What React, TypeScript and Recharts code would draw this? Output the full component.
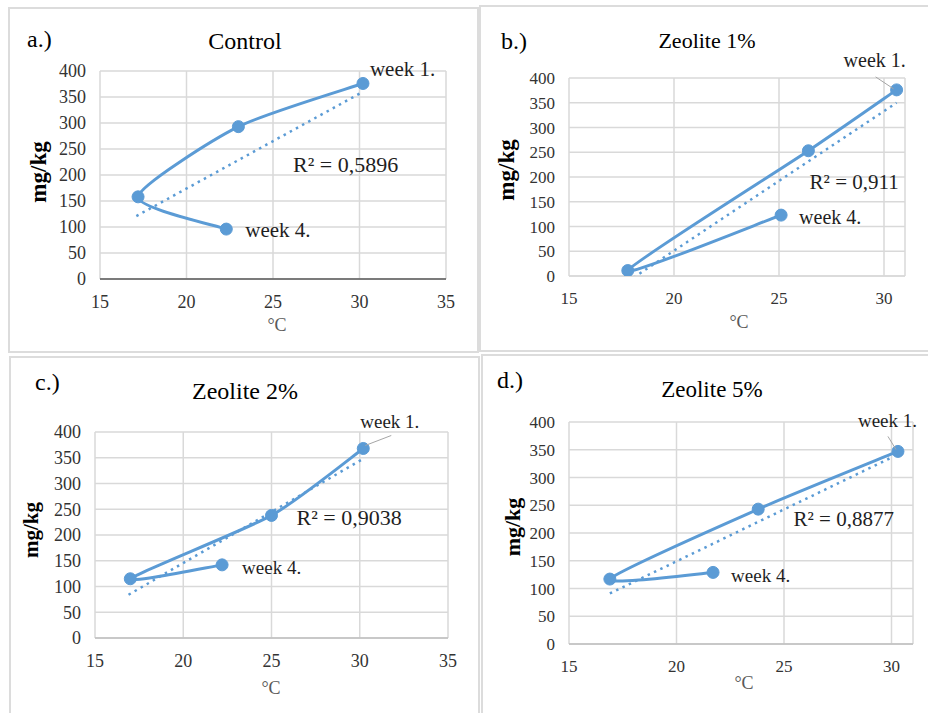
import { ComposedChart, Line, XAxis, YAxis, CartesianGrid } from 'recharts'

const Y_TICKS = [0, 50, 100, 150, 200, 250, 300, 350, 400]
const X_TICKS_WIDE = [15, 20, 25, 30, 35]
const X_TICKS_NARROW = [15, 20, 25, 30]
const WEEK_TAGS = ['week 1.', '', '', 'week 4.']

// a.) Control  (order: week 1 -> week 4)
const TEMP_A = [30.2, 23.0, 17.2, 22.3]
const CONC_A = [376, 293, 158, 96]
const TREND_TEMP_A = [17.1, 30.2]
const TREND_CONC_A = [121, 360]

// b.) Zeolite 1%
const TEMP_B = [30.6, 26.4, 17.8, 25.1]
const CONC_B = [376, 253, 11, 123]
const TREND_TEMP_B = [17.8, 30.6]
const TREND_CONC_B = [-11, 350]

// c.) Zeolite 2%
const TEMP_C = [30.2, 25.0, 17.0, 22.2]
const CONC_C = [368, 238, 115, 142]
const TREND_TEMP_C = [16.9, 30.1]
const TREND_CONC_C = [84, 346]

// d.) Zeolite 5%
const TEMP_D = [30.3, 23.8, 16.9, 21.7]
const CONC_D = [347, 243, 117, 129]
const TREND_TEMP_D = [16.9, 30.0]
const TREND_CONC_D = [91, 336]

const BLUE = '#5b9bd5'
const FONT = '"Liberation Serif", "Times New Roman", serif'

// Excel style smoothed line (low tension Catmull-Rom through the points, pixel space)
function smoothCurve(context: any) {
    let pts: number[][] = []
    return {
        areaStart() { },
        areaEnd() { },
        lineStart() { pts = [] },
        point(x: number, y: number) { pts.push([+x, +y]) },
        lineEnd() {
            const n = pts.length
            if (!n) return
            context.moveTo(pts[0][0], pts[0][1])
            const k = 0.11
            for (let i = 0; i < n - 1; i++) {
                const p0 = pts[Math.max(i - 1, 0)]
                const p1 = pts[i]
                const p2 = pts[i + 1]
                const p3 = pts[Math.min(i + 2, n - 1)]
                context.bezierCurveTo(
                    p1[0] + (p2[0] - p0[0]) * k, p1[1] + (p2[1] - p0[1]) * k,
                    p2[0] - (p3[0] - p1[0]) * k, p2[1] - (p3[1] - p1[1]) * k,
                    p2[0], p2[1],
                )
            }
        },
    }
}

const PANELS = [
    {
        letter: 'a.)', title: 'Control', r2: 'R² = 0,5896',
        temp: TEMP_A, conc: CONC_A, trendTemp: TREND_TEMP_A, trendConc: TREND_CONC_A,
        xMax: 35, xTicks: X_TICKS_WIDE, axisStroke: '#595959',
        box: { left: 8, top: 7, right: 479, bottom: 353 },
        plot: { left: 100, top: 71, right: 446, bottom: 279 },
        tickSize: 18, titleSize: 24, ySize: 23, tagSize: 21, r2Size: 22,
        letterPos: [27, 39], titlePos: [245, 41], yPos: [38, 172], xPos: [277, 325],
        w1: [7, -15], w4: [19, 1], r2Off: [-70, 72], leader: null,
    },
    {
        letter: 'b.)', title: 'Zeolite 1%', r2: 'R² = 0,911',
        temp: TEMP_B, conc: CONC_B, trendTemp: TREND_TEMP_B, trendConc: TREND_CONC_B,
        xMax: 31, xTicks: X_TICKS_NARROW, axisStroke: '#d9d9d9',
        box: { left: 479, top: 5, right: 932, bottom: 352 },
        plot: { left: 569, top: 78, right: 905, bottom: 276 },
        tickSize: 17, titleSize: 22, ySize: 23, tagSize: 20, r2Size: 21,
        letterPos: [501, 41], titlePos: [707, 41], yPos: [506, 170], xPos: [739, 322],
        w1: [-53, -30], w4: [18, 2], r2Off: [-87, 79], leader: [-21, -13, -3, -1],
    },
    {
        letter: 'c.)', title: 'Zeolite 2%', r2: 'R² = 0,9038',
        temp: TEMP_C, conc: CONC_C, trendTemp: TREND_TEMP_C, trendConc: TREND_CONC_C,
        xMax: 35, xTicks: X_TICKS_WIDE, axisStroke: '#bfbfbf',
        box: { left: 9, top: 356, right: 480, bottom: 717 },
        plot: { left: 95, top: 432, right: 448, bottom: 638 },
        tickSize: 18, titleSize: 24, ySize: 21, tagSize: 19, r2Size: 22,
        letterPos: [35, 382], titlePos: [245, 391], yPos: [31, 530], xPos: [271, 688],
        w1: [-3, -27], w4: [20, 2], r2Off: [-65, 57], leader: [2, -3, 28, -13],
    },
    {
        letter: 'd.)', title: 'Zeolite 5%', r2: 'R² = 0,8877',
        temp: TEMP_D, conc: CONC_D, trendTemp: TREND_TEMP_D, trendConc: TREND_CONC_D,
        xMax: 31, xTicks: X_TICKS_NARROW, axisStroke: '#bfbfbf',
        box: { left: 481, top: 354, right: 932, bottom: 717 },
        plot: { left: 569, top: 422, right: 913, bottom: 644 },
        tickSize: 17, titleSize: 23, ySize: 22, tagSize: 19, r2Size: 21,
        letterPos: [497, 380], titlePos: [712, 389], yPos: [513, 527], xPos: [744, 683],
        w1: [-40, -31], w4: [18, 3], r2Off: [-98, 61], leader: [-10, -15, -2, -2],
    },
]

const Y_AXIS_W = 60
const X_AXIS_H = 40

function Panel({ cfg }: { cfg: any }) {
    const points = cfg.temp.map((t: number, i: number) => ({ t, c: cfg.conc[i], tag: WEEK_TAGS[i] }))
    const trend = cfg.trendTemp.map((t: number, i: number) => ({ t, c: cfg.trendConc[i] }))
    const { box, plot } = cfg
    const W = box.right - box.left
    const H = box.bottom - box.top
    const margin = {
        left: plot.left - box.left - Y_AXIS_W,
        top: plot.top - box.top,
        right: box.right - plot.right,
        bottom: box.bottom - plot.bottom - X_AXIS_H,
    }

    const renderTag = (p: any) => {
        const idx = p.index
        const tag = WEEK_TAGS[idx]
        if (!tag) return null
        const off = idx === 0 ? cfg.w1 : cfg.w4
        return (
            <g key={`tag-${idx}`}>
                {idx === 0 && cfg.leader && (
                    <line
                        x1={p.x + cfg.leader[0]} y1={p.y + cfg.leader[1]}
                        x2={p.x + cfg.leader[2]} y2={p.y + cfg.leader[3]}
                        stroke="#a6a6a6" strokeWidth={1}
                    />
                )}
                <text x={p.x + off[0]} y={p.y + off[1]} dy="0.35em" fontFamily={FONT}
                    fontSize={cfg.tagSize} fill="#1f1f1f">
                    {tag}
                </text>
            </g>
        )
    }

    const renderR2 = (p: any) => {
        if (p.index !== 1) return null
        return (
            <text key="r2" x={p.x + cfg.r2Off[0]} y={p.y + cfg.r2Off[1]} dy="0.35em"
                fontFamily={FONT} fontSize={cfg.r2Size} fill="#1f1f1f">
                {cfg.r2}
            </text>
        )
    }

    const center = (pos: number[]) => ({
        position: 'absolute' as const, left: pos[0], top: pos[1],
        transform: 'translate(-50%, -50%)', whiteSpace: 'nowrap' as const, lineHeight: 1,
    })

    return (
        <>
            <div style={{
                position: 'absolute', left: box.left, top: box.top,
                width: W - 4, height: H - 4, border: '2px solid #dcdcdc',
            }} />
            <div style={{ position: 'absolute', left: box.left, top: box.top }}>
                <ComposedChart width={W} height={H} margin={margin}>
                    <CartesianGrid stroke="#d9d9d9" strokeWidth={1.5} />
                    <XAxis
                        type="number" dataKey="t" domain={[15, cfg.xMax]} ticks={cfg.xTicks}
                        allowDataOverflow interval={0} height={X_AXIS_H}
                        tick={{ fontSize: cfg.tickSize, fill: '#333', fontFamily: FONT }}
                        tickLine={false} tickMargin={10}
                        axisLine={{ stroke: cfg.axisStroke, strokeWidth: 1.5 }}
                    />
                    <YAxis
                        type="number" domain={[0, 400]} ticks={Y_TICKS}
                        allowDataOverflow interval={0} width={Y_AXIS_W}
                        tick={{ fontSize: cfg.tickSize, fill: '#333', fontFamily: FONT }}
                        tickLine={false} axisLine={false} tickMargin={8}
                    />
                    <Line
                        data={trend} dataKey="c" type="linear" stroke={BLUE}
                        strokeWidth={2.5} strokeDasharray="2.5 4.5" dot={false}
                        activeDot={false} isAnimationActive={false} label={renderR2}
                    />
                    <Line
                        data={points} dataKey="c" type={smoothCurve as any} stroke={BLUE}
                        strokeWidth={3} dot={{ r: 6, fill: BLUE, stroke: BLUE, strokeWidth: 1 }}
                        activeDot={false} isAnimationActive={false} label={renderTag}
                    />
                </ComposedChart>
            </div>
            <div style={{ position: 'absolute', left: cfg.letterPos[0], top: cfg.letterPos[1], transform: 'translateY(-50%)', fontSize: 24, lineHeight: 1 }}>
                {cfg.letter}
            </div>
            <div style={{ ...center(cfg.titlePos), fontSize: cfg.titleSize }}>{cfg.title}</div>
            <div style={{ ...center(cfg.yPos), fontSize: cfg.ySize, fontWeight: 'bold', transform: 'translate(-50%, -50%) rotate(-90deg)' }}>
                mg/kg
            </div>
            <div style={{ ...center(cfg.xPos), fontSize: 18, color: '#595959' }}>°C</div>
        </>
    )
}

export default function App() {
    return (
        <div style={{
            position: 'absolute', left: 0, top: 0, width: 928, height: 713,
            overflow: 'hidden', background: '#fff', fontFamily: FONT, color: '#000',
        }}>
            {PANELS.map(cfg => <Panel key={cfg.letter} cfg={cfg} />)}
        </div>
    )
}
